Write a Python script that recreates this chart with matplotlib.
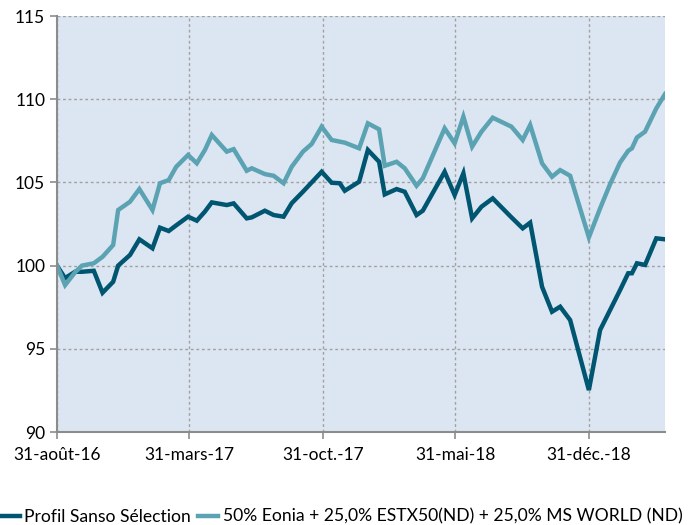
import matplotlib
matplotlib.use("Agg")
import matplotlib.pyplot as plt
import pandas as pd

# dates of the points
dates = [
    "2016-08-31", "2016-09-13", "2016-09-29", "2016-10-10", "2016-10-29", "2016-11-12",
    "2016-11-29", "2016-12-07", "2016-12-26", "2017-01-10", "2017-01-31", "2017-02-12",
    "2017-02-26", "2017-03-10", "2017-03-29", "2017-04-12", "2017-04-25", "2017-05-06",
    "2017-05-30", "2017-06-10", "2017-07-01", "2017-07-09", "2017-07-30", "2017-08-13",
    "2017-08-29", "2017-09-11", "2017-09-29", "2017-10-13", "2017-10-29", "2017-11-14",
    "2017-11-27", "2017-12-05", "2017-12-28", "2018-01-11", "2018-01-29", "2018-02-07",
    "2018-02-26", "2018-03-11", "2018-03-30", "2018-04-09", "2018-05-14", "2018-05-30",
    "2018-06-13", "2018-06-27", "2018-07-12", "2018-07-30", "2018-08-29", "2018-09-16",
    "2018-09-28", "2018-10-17", "2018-11-02", "2018-11-15", "2018-12-01", "2018-12-31",
    "2019-01-18", "2019-02-03", "2019-02-19", "2019-03-04", "2019-03-10", "2019-03-18",
    "2019-03-31", "2019-04-18", "2019-05-02",
]

profil = [
    100.0, 99.25, 99.63, 99.63, 99.69, 98.37,
    99.03, 100.0, 100.64, 101.58, 101.04, 102.28,
    102.08, 102.42, 102.94, 102.70, 103.25, 103.80,
    103.64, 103.74, 102.84, 102.90, 103.30, 103.04,
    102.94, 103.75, 104.44, 105.0, 105.64, 104.98,
    104.95, 104.50, 105.04, 106.95, 106.24, 104.28,
    104.60, 104.44, 103.04, 103.30, 105.64, 104.24,
    105.55, 102.84, 103.54, 104.04, 102.90, 102.24,
    102.58, 98.73, 97.23, 97.53, 96.73, 92.52,
    96.13, 97.33, 98.53, 99.54, 99.54, 100.14,
    100.04, 101.64, 101.58,
]

benchmark = [
    100.0, 98.83, 99.6, 100.0, 100.14, 100.53,
    101.24, 103.34, 103.84, 104.60, 103.34, 104.95,
    105.14, 105.94, 106.65, 106.15, 106.95, 107.85,
    106.85, 107.0, 105.70, 105.85, 105.50, 105.40,
    104.95, 105.94, 106.85, 107.31, 108.35, 107.55,
    107.45, 107.39, 107.05, 108.55, 108.19, 106.0,
    106.24, 105.85, 104.80, 105.25, 108.25, 107.35,
    108.95, 107.15, 108.05, 108.89, 108.35, 107.55,
    108.45, 106.15, 105.34, 105.74, 105.40, 101.70,
    103.44, 104.9, 106.2, 106.9, 107.05, 107.7,
    108.05, 109.45, 110.31,
]

tick_dates = ["2016-08-31", "2017-03-31", "2017-10-31", "2018-05-31", "2018-12-31"]
tick_labels = ["31-août-16", "31-mars-17", "31-oct.-17", "31-mai-18", "31-déc.-18"]
y_ticks = [90, 95, 100, 105, 110, 115]

series_names = ["Profil Sanso Sélection",
                "50% Eonia + 25,0% ESTX50(ND) + 25,0% MS WORLD (ND)"]

plt.rcParams["font.family"] = ["Lato", "DejaVu Sans"]

x = pd.to_datetime(dates)
fig = plt.figure(figsize=(6.99, 5.25), dpi=100)
ax = fig.add_axes([0.0815, 0.1771, 0.8699, 0.7924])
ax.set_facecolor("#DCE6F2")

ax.plot(x, profil, color="#005670", lw=3.2, label=series_names[0], solid_joinstyle="miter")
ax.plot(x, benchmark, color="#5BA3B3", lw=3.2, label=series_names[1], solid_joinstyle="miter")

ax.set_ylim(90, 115)
ax.set_yticks(y_ticks)
ax.set_xlim(pd.Timestamp("2016-08-31"), pd.Timestamp("2019-05-02"))
ax.set_xticks(pd.to_datetime(tick_dates))
ax.set_xticklabels(tick_labels)

ax.grid(True, color="#A0A0A0", linestyle=(0, (2, 2)), linewidth=1)
ax.set_axisbelow(True)
for s in ["top", "right"]:
    ax.spines[s].set_visible(False)
for s in ["left", "bottom"]:
    ax.spines[s].set_color("#8C8C8C")
    ax.spines[s].set_linewidth(1.5)
ax.tick_params(axis="both", colors="#8C8C8C", length=5, width=1.2, labelsize=12.5,
               labelcolor="black")
ax.tick_params(axis="x", pad=6)

fig.legend(loc="center left", bbox_to_anchor=(0.0, 0.016), ncol=2, frameon=False,
           fontsize=12.6, handlelength=1.15, handletextpad=0.25, columnspacing=0.4,
           borderpad=0, borderaxespad=0)

fig.savefig("out.png", dpi=100)
